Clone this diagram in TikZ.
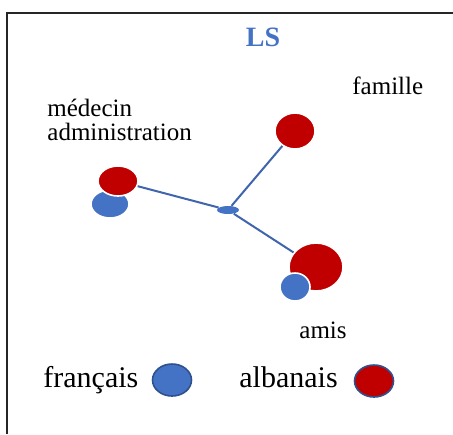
\documentclass[tikz,border=0pt]{standalone}
\usepackage{fontspec}
\setmainfont{Liberation Serif}
\usetikzlibrary{shapes.geometric, positioning}
\definecolor{lsred}{HTML}{C00000}
\definecolor{lsblue}{HTML}{4472C4}
\definecolor{lsline}{HTML}{3F65AD}
\definecolor{lsedge}{HTML}{2F528F}
\tikzstyle{redball} = [ellipse, fill=lsred, draw=white, line width=0.8pt, inner sep=0pt]
\tikzstyle{blueball} = [ellipse, fill=lsblue, draw=white, line width=0.8pt, inner sep=0pt]
\tikzstyle{key} = [ellipse, minimum width=19.5pt, minimum height=16pt, draw=lsedge, line width=0.8pt, inner sep=0pt]
\tikzstyle{word} = [font=\fontsize{12.5}{12}\selectfont, inner sep=0pt, align=left, anchor=base west]
\tikzstyle{legend} = [font=\fontsize{15}{15}\selectfont, inner sep=0pt, anchor=base west]
\tikzstyle{link} = [lsline, line width=1pt]
\begin{document}
\begin{tikzpicture}[x=0.5pt, y=-0.5pt]
    \useasboundingbox (0,0) rectangle (453,434);
    \draw [line width=1pt, black!85] (7,434) -- (7,13) -- (453,13);

    \node (ls) [font=\fontsize{14}{14}\selectfont\bfseries, text=lsblue, inner sep=0pt, anchor=base] at (263,46) {LS};

    \node (medB) [blueball, minimum width=19pt, minimum height=14pt] at (110,204) {};
    \node (medR) [redball, minimum width=20pt, minimum height=15pt] at (118,181) {};
    \node (hub) [ellipse, fill=lsblue, minimum width=11pt, minimum height=4pt, inner sep=0pt] at (228,210) {};
    \node (fam) [redball, minimum width=20pt, minimum height=18pt] at (295,131) {};
    \node (amiR) [redball, minimum width=27pt, minimum height=24pt] at (316,267) {};
    \node (amiB) [blueball, minimum width=15pt, minimum height=14pt] at (295,287) {};

    \draw [link] (medR) -- (hub);
    \draw [link] (hub) -- (fam);
    \draw [link] (hub) -- (amiR);

    \node (medTxt) [word] at (47,140) {médecin\\administration};
    \node (famTxt) [word] at (352,94) {famille};
    \node (amiTxt) [word] at (299,338) {amis};

    \node (frTxt) [legend] at (43,387) {français};
    \node (keyFr) [key, fill=lsblue] at (172,380) {};
    \node (alTxt) [legend] at (239,387) {albanais};
    \node (keyAl) [key, fill=lsred] at (374,381) {};
\end{tikzpicture}
\end{document}
